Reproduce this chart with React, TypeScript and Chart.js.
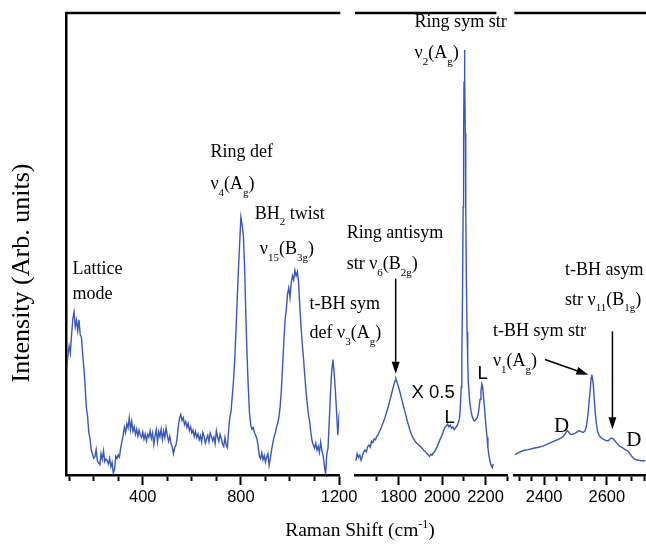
import { useEffect, useRef } from 'react';
import { Chart, registerables } from 'chart.js';

Chart.register(...registerables);

// ---------- Panel 1 (low-frequency region) ----------
const P1_SHIFT = [
  90, 95, 100, 105, 110, 115, 120, 125, 130, 135,
  140, 145, 150, 155, 160, 165, 170, 175, 180, 185,
  190, 195, 200, 205, 210, 215, 220, 225, 230, 235,
  240, 245, 250, 255, 260, 265, 270, 275, 280, 285,
  290, 295, 300, 305, 310, 315, 320, 325, 330, 335,
  340, 345, 350, 355, 360, 365, 370, 375, 380, 385,
  390, 395, 400, 405, 410, 415, 420, 425, 430, 435,
  440, 445, 450, 455, 460, 465, 470, 475, 480, 485,
  490, 495, 500, 505, 510, 515, 520, 525, 530, 535,
  540, 545, 550, 555, 560, 565, 570, 575, 580, 585,
  590, 595, 600, 605, 610, 615, 620, 625, 630, 635,
  640, 645, 650, 655, 660, 665, 670, 675, 680, 685,
  690, 695, 700, 705, 710, 715, 720, 725, 730, 735,
  740, 745, 750, 755, 760, 765, 770, 775, 780, 785,
  790, 795, 800, 805, 810, 815, 820, 825, 830, 835,
  840, 845, 850, 855, 860, 865, 870, 875, 880, 885,
  890, 895, 900, 905, 910, 915, 920, 925, 930, 935,
  940, 945, 950, 955, 960, 965, 970, 975, 980, 985,
  990, 995, 1000, 1005, 1010, 1015, 1020, 1025, 1030, 1035,
  1040, 1045, 1050, 1055, 1060, 1065, 1070, 1075, 1080, 1085,
  1090, 1095, 1100, 1105, 1110, 1115, 1120, 1125, 1130, 1135,
  1140, 1145, 1150, 1155, 1160, 1165, 1170, 1175, 1180, 1185,
  1190, 1195, 1200, 1205,
];
const P1_INTENSITY = [
  23.0, 25.8, 27.9, 26.4, 30.5, 33.8, 35.3, 32.1, 33.5, 31.2,
  33.6, 30.4, 29.8, 26.2, 23.1, 19.4, 14.6, 12.8, 9.3, 7.9,
  5.4, 4.6, 3.6, 3.9, 5.5, 3.1, 2.6, 2.2, 4.6, 3.4,
  5.2, 2.9, 3.5, 3.1, 2.4, 3.6, 1.8, 2.7, 0.4, 1.2,
  4.1, 3.6, 4.4, 3.9, 5.8, 7.2, 8.6, 10.3, 9.2, 11.1,
  10.2, 12.4, 9.8, 11.6, 9.5, 10.4, 8.8, 9.9, 8.4, 9.7,
  8.6, 8.1, 9.3, 7.8, 8.9, 7.4, 8.8, 8.2, 9.6, 7.9,
  9.1, 6.6, 8.5, 9.8, 7.2, 9.4, 8.3, 9.9, 7.7, 9.5,
  8.1, 10.2, 8.6, 7.3, 8.4, 6.8, 6.1, 4.6, 5.9, 6.4,
  8.0, 10.6, 12.3, 13.1, 11.8, 12.4, 10.9, 11.6, 10.3, 11.2,
  9.6, 10.4, 9.1, 9.7, 8.3, 9.4, 8.1, 8.9, 7.6, 8.5,
  7.1, 9.2, 8.4, 6.9, 7.8, 8.6, 7.2, 9.1, 8.3, 7.4,
  8.2, 6.8, 9.6, 8.2, 7.3, 8.8, 7.9, 6.7, 6.2, 8.1,
  6.5, 5.9, 9.8, 12.5, 13.9, 17.2, 20.5, 25.1, 31.4, 38.2,
  44.6, 50.3, 55.8, 54.2, 51.9, 45.0, 35.0, 26.0, 19.0, 13.5,
  10.8, 9.9, 10.3, 9.2, 8.6, 7.9, 6.4, 4.1, 3.5, 4.8,
  3.3, 4.2, 2.8, 3.9, 4.6, 2.1, 3.7, 5.4, 6.9, 8.2,
  9.1, 10.3, 11.2, 12.6, 14.8, 18.5, 23.7, 28.9, 33.6, 35.8,
  39.2, 40.5, 38.4, 41.6, 43.1, 42.2, 44.3, 43.1, 44.0, 41.8,
  36.5, 32.2, 28.4, 25.3, 21.7, 18.4, 15.6, 13.1, 11.6, 9.2,
  7.4, 6.5, 5.8, 6.9, 5.4, 6.2, 4.9, 7.1, 5.2, 4.3,
  2.1, 0.2, 4.5, 5.8, 11.5, 17.6, 22.4, 25.0, 22.1, 18.3,
  13.5, 8.6, 12.9, 14.0,
];

// ---------- Panel 2 (ring stretch region, x0.5) ----------
const P2_SHIFT = [
  1604, 1610, 1616, 1622, 1628, 1634, 1640, 1646, 1652, 1658,
  1664, 1670, 1676, 1682, 1688, 1694, 1700, 1706, 1712, 1718,
  1724, 1730, 1736, 1742, 1748, 1754, 1760, 1766, 1772, 1778,
  1784, 1788, 1792, 1798, 1804, 1810, 1816, 1822, 1828, 1834,
  1840, 1846, 1852, 1858, 1864, 1870, 1876, 1882, 1888, 1894,
  1900, 1906, 1912, 1918, 1924, 1930, 1936, 1942, 1948, 1954,
  1960, 1966, 1972, 1978, 1984, 1990, 1996, 2002, 2008, 2014,
  2020, 2026, 2032, 2038, 2044, 2050, 2056, 2062, 2068, 2074,
  2080, 2084, 2088, 2091, 2094, 2097, 2099, 2101, 2103, 2105,
  2107, 2109, 2112, 2115, 2118, 2121, 2127, 2133, 2139, 2145,
  2151, 2157, 2163, 2167, 2171, 2175, 2179, 2183, 2187, 2191,
  2195, 2199, 2203, 2207, 2211, 2215, 2219, 2223, 2227, 2231,
  2235,
];
const P2_INTENSITY = [
  3.1, 4.6, 3.8, 4.3, 3.2, 4.1, 5.0, 5.4, 5.0, 6.1,
  6.5, 6.0, 7.3, 7.0, 7.8, 7.6, 8.4, 8.7, 9.4, 9.9,
  10.7, 11.4, 12.2, 13.1, 14.0, 15.0, 16.1, 17.2, 18.3, 19.4,
  20.4, 20.8, 20.3, 19.3, 18.4, 17.3, 16.2, 15.0, 14.0, 12.9,
  11.7, 10.8, 9.8, 9.0, 8.3, 7.8, 7.3, 7.0, 6.7, 6.4,
  6.2, 5.9, 5.6, 5.2, 5.1, 4.7, 4.4, 4.0, 4.5, 4.3,
  4.8, 5.0, 5.6, 6.2, 6.9, 7.6, 8.2, 8.9, 9.7, 10.4,
  10.6, 11.0, 10.4, 10.8, 10.1, 10.4, 9.8, 10.2, 10.6, 11.2,
  12.2, 14.6, 19.0, 25.0, 38.0, 58.0, 72.0, 85.0, 92.0, 86.0,
  74.0, 58.0, 42.0, 31.0, 25.0, 20.0, 16.0, 13.9, 12.6, 11.9,
  11.7, 12.1, 12.5, 13.4, 14.9, 16.4, 18.2, 19.7, 18.9, 16.7,
  14.6, 12.3, 10.0, 8.1, 5.9, 4.4, 3.3, 2.5, 1.9, 1.6,
  2.4,
];

// ---------- Panel 3 (t-BH stretch region) ----------
const P3_SHIFT = [
  2307, 2320, 2334, 2350, 2366, 2382, 2398, 2414, 2430, 2445,
  2456, 2462, 2467, 2471, 2475, 2479, 2484, 2490, 2498, 2505,
  2512, 2518, 2525, 2530, 2534, 2538, 2541, 2544, 2547, 2550,
  2552, 2554, 2557, 2560, 2563, 2566, 2570, 2575, 2581, 2587,
  2593, 2600, 2605, 2610, 2616, 2621, 2627, 2632, 2640, 2648,
  2656, 2664, 2670, 2675, 2680, 2686, 2694, 2702, 2712, 2722,
];
const P3_INTENSITY = [
  4.4, 4.9, 5.3, 5.5, 5.8, 6.0, 6.3, 6.8, 7.3, 7.7,
  8.1, 8.4, 8.9, 9.4, 9.6, 9.2, 8.8, 8.8, 9.0, 9.3,
  9.6, 9.4, 9.2, 9.5, 10.3, 12.0, 13.9, 16.2, 18.3, 21.0,
  21.7, 21.0, 19.5, 16.5, 13.6, 11.5, 9.6, 8.7, 8.1, 7.8,
  7.6, 7.4, 7.4, 7.8, 8.0, 7.8, 7.3, 6.9, 6.3, 6.0,
  5.6, 5.3, 5.0, 4.5, 4.0, 3.6, 3.3, 3.2, 3.1, 3.1,
];

// ---------- Axis ticks ----------
const P1_RANGE = [90, 1201];
const P2_RANGE = [1600, 2300];
const P3_RANGE = [2305, 2725];
const P1_TICKS = [100, 200, 300, 400, 500, 600, 700, 800, 900, 1000, 1100, 1200];
const P1_LABELED = [400, 800, 1200];
const P2_TICKS = [1700, 1800, 1900, 2000, 2100, 2200, 2300];
const P2_LABELED = [1800, 2000, 2200];
const P3_TICKS = [2320, 2360, 2400, 2440, 2480, 2520, 2560, 2600, 2640, 2680, 2720];
const P3_LABELED = [2400, 2600];

// ---------- Annotations (data coordinates) ----------
type Ann = { axis: string; x: number; y: number; text: string; kind: 'serif' | 'sans' | 'big' };
const ANNOTATIONS: Ann[] = [
  { axis: 'x1', x: 114, y: 43.6, text: 'Lattice', kind: 'serif' },
  { axis: 'x1', x: 114, y: 38.0, text: 'mode', kind: 'serif' },
  { axis: 'x1', x: 676, y: 68.8, text: 'Ring def', kind: 'serif' },
  { axis: 'x1', x: 676, y: 61.9, text: 'ν_{4}(A_{g})', kind: 'serif' },
  { axis: 'x1', x: 856, y: 55.5, text: 'BH_{2} twist', kind: 'serif' },
  { axis: 'x1', x: 877, y: 47.9, text: 'ν_{15}(B_{3g})', kind: 'serif' },
  { axis: 'x1', x: 1080, y: 35.9, text: 't-BH sym', kind: 'serif' },
  { axis: 'x1', x: 1080, y: 29.6, text: 'def ν_{3}(A_{g})', kind: 'serif' },
  { axis: 'x2', x: 1562, y: 51.4, text: 'Ring antisym', kind: 'serif' },
  { axis: 'x2', x: 1562, y: 44.5, text: 'str ν_{6}(B_{2g})', kind: 'serif' },
  { axis: 'x2', x: 1874, y: 97.0, text: 'Ring sym str', kind: 'serif' },
  { axis: 'x2', x: 1874, y: 90.3, text: 'ν_{2}(A_{g})', kind: 'serif' },
  { axis: 'x2', x: 1860, y: 16.7, text: 'X 0.5', kind: 'sans' },
  { axis: 'x2', x: 2011, y: 11.3, text: 'L', kind: 'sans' },
  { axis: 'x2', x: 2163, y: 20.8, text: 'L', kind: 'sans' },
  { axis: 'x3', x: 2237, y: 30.1, text: 't-BH sym str', kind: 'serif' },
  { axis: 'x3', x: 2237, y: 23.6, text: 'ν_{1}(A_{g})', kind: 'serif' },
  { axis: 'x3', x: 2467, y: 43.2, text: 't-BH asym', kind: 'serif' },
  { axis: 'x3', x: 2467, y: 36.9, text: 'str ν_{11}(B_{1g})', kind: 'serif' },
  { axis: 'x3', x: 2432, y: 9.4, text: 'D', kind: 'big' },
  { axis: 'x3', x: 2662, y: 6.2, text: 'D', kind: 'big' },
];
const ARROWS = [
  { axis: 'x2', x1: 1787, y1: 42.5, x2: 1787, y2: 21.9 },
  { axis: 'x3', x1: 2403, y1: 25.0, x2: 2541, y2: 21.7 },
  { axis: 'x3', x1: 2618, y1: 31.1, x2: 2618, y2: 9.9 },
];
const TOP_RULE_END: Record<string, number> = { x1: 1205, x2: 2250, x3: 2725 };

const SERIF = '"Liberation Serif", "Times New Roman", serif';
const SANS = '"Liberation Sans", Arial, sans-serif';
const LINE_COLOR = '#3a58b5';

function parseRich(text: string): [string, number][] {
  const out: [string, number][] = [];
  let buf = '';
  let i = 0;
  while (i < text.length) {
    const c = text[i];
    if ((c === '_' || c === '^') && text[i + 1] === '{') {
      if (buf) { out.push([buf, 0]); buf = ''; }
      const end = text.indexOf('}', i);
      out.push([text.slice(i + 2, end), c === '_' ? 1 : 2]);
      i = end + 1;
    } else {
      buf += c;
      i++;
    }
  }
  if (buf) out.push([buf, 0]);
  return out;
}

function drawRich(ctx: CanvasRenderingContext2D, text: string, x: number, y: number, size: number, family: string, center = false) {
  const segs = parseRich(text);
  const fontFor = (k: number) => `${k === 0 ? size : Math.round(size * 0.62)}px ${family}`;
  let total = 0;
  for (const [t, k] of segs) { ctx.font = fontFor(k); total += ctx.measureText(t).width; }
  let cx = center ? x - total / 2 : x;
  ctx.textAlign = 'left';
  ctx.textBaseline = 'alphabetic';
  for (const [t, k] of segs) {
    ctx.font = fontFor(k);
    const dy = k === 1 ? size * 0.38 : k === 2 ? -size * 0.42 : 0;
    ctx.fillText(t, cx, y + dy);
    cx += ctx.measureText(t).width;
  }
}

const decorPlugin = {
  id: 'decor',
  afterDraw(chart: any) {
    const ctx: CanvasRenderingContext2D = chart.ctx;
    const ys = chart.scales.y;
    const area = chart.chartArea;
    ctx.save();
    // top rules of the three panels
    ctx.strokeStyle = '#000';
    ctx.lineWidth = 2.5;
    for (const id of ['x1', 'x2', 'x3']) {
      const s = chart.scales[id];
      const left = id === 'x1' ? s.left - 1.25 : s.left;
      const right = Math.min(s.getPixelForValue(TOP_RULE_END[id]), s.right + 1);
      ctx.beginPath();
      ctx.moveTo(left, area.top);
      ctx.lineTo(right, area.top);
      ctx.stroke();
    }
    // annotations
    ctx.fillStyle = '#000';
    for (const a of ANNOTATIONS) {
      const s = chart.scales[a.axis];
      const px = s.getPixelForValue(a.x);
      const py = ys.getPixelForValue(a.y);
      if (a.kind === 'sans') drawRich(ctx, a.text, px, py, 18.5, SANS);
      else if (a.kind === 'big') drawRich(ctx, a.text, px, py, 21, SERIF);
      else drawRich(ctx, a.text, px, py, 18, SERIF);
    }
    // arrows
    ctx.lineWidth = 1.5;
    for (const ar of ARROWS) {
      const s = chart.scales[ar.axis];
      const x1 = s.getPixelForValue(ar.x1);
      const y1 = ys.getPixelForValue(ar.y1);
      const x2 = s.getPixelForValue(ar.x2);
      const y2 = ys.getPixelForValue(ar.y2);
      const ang = Math.atan2(y2 - y1, x2 - x1);
      const hl = 12;
      const hw = 4;
      const bx = x2 - hl * Math.cos(ang);
      const by = y2 - hl * Math.sin(ang);
      ctx.beginPath();
      ctx.moveTo(x1, y1);
      ctx.lineTo(bx, by);
      ctx.stroke();
      ctx.beginPath();
      ctx.moveTo(x2, y2);
      ctx.lineTo(bx + hw * Math.sin(ang), by - hw * Math.cos(ang));
      ctx.lineTo(bx - hw * Math.sin(ang), by + hw * Math.cos(ang));
      ctx.closePath();
      ctx.fill();
    }
    // axis titles
    drawRich(ctx, 'Raman Shift (cm^{-1})', 360, 536, 19.5, SERIF, true);
    ctx.translate(21.7, 273);
    ctx.rotate(-Math.PI / 2);
    ctx.font = `26px ${SERIF}`;
    ctx.textAlign = 'center';
    ctx.textBaseline = 'middle';
    ctx.fillText('Intensity (Arb. units)', 0, 0);
    ctx.restore();
  },
};

function panelScale(range: number[], ticks: number[], labeled: number[], weight: number, stackWeight: number) {
  return {
    type: 'linear',
    position: 'bottom',
    stack: 'xs',
    stackWeight,
    weight,
    min: range[0],
    max: range[1],
    afterBuildTicks: (axis: any) => { axis.ticks = ticks.map((value) => ({ value })); },
    afterFit: (axis: any) => { axis.paddingLeft = 0; axis.paddingRight = 0; },
    ticks: {
      autoSkip: false,
      maxRotation: 0,
      minRotation: 0,
      padding: 3,
      color: '#000',
      font: { family: SANS, size: 16.5 },
      callback: (v: any) => (labeled.includes(v) ? String(v) : ''),
    },
    grid: {
      display: true,
      drawOnChartArea: false,
      drawTicks: true,
      tickLength: 10,
      tickWidth: 2,
      tickColor: '#000',
      tickBorderDash: (c: any) => (c.tick && labeled.includes(c.tick.value) ? [] : [4.5, 40]),
    },
    border: { display: true, width: 2.5, color: '#000' },
  };
}

function gapScale(weight: number, stackWeight: number) {
  return {
    type: 'linear',
    position: 'bottom',
    stack: 'xs',
    stackWeight,
    weight,
    min: 0,
    max: 1,
    ticks: { display: false },
    grid: { display: false, drawTicks: false },
    border: { display: false },
  };
}

export default function App() {
  const ref = useRef<HTMLCanvasElement>(null);
  useEffect(() => {
    const canvas = ref.current;
    if (!canvas) return;
    const mk = (xs: number[], ys: number[]) => xs.map((x, i) => ({ x, y: ys[i] }));
    const ds = (data: any, xAxisID: string) => ({
      data,
      xAxisID,
      yAxisID: 'y',
      borderColor: LINE_COLOR,
      borderWidth: 1.4,
      pointRadius: 0,
      tension: 0,
      fill: false,
    });
    const chart = new Chart(canvas, {
      type: 'line',
      data: {
        datasets: [
          ds(mk(P1_SHIFT, P1_INTENSITY), 'x1'),
          ds(mk(P2_SHIFT, P2_INTENSITY), 'x2'),
          ds(mk(P3_SHIFT, P3_INTENSITY), 'x3'),
        ],
      },
      options: {
        animation: false,
        responsive: false,
        devicePixelRatio: 1,
        events: [],
        layout: { padding: { left: 0, right: 0, top: 13, bottom: 35.2 }, autoPadding: false },
        plugins: { legend: { display: false }, tooltip: { enabled: false }, title: { display: false } },
        scales: {
          y: {
            type: 'linear',
            position: 'left',
            min: 0,
            max: 100,
            ticks: { display: false },
            grid: { display: false, drawTicks: false },
            border: { display: true, width: 2.5, color: '#000' },
            afterFit: (axis: any) => { axis.width = 66.7; },
          },
          x1: panelScale(P1_RANGE, P1_TICKS, P1_LABELED, 0, 272.6),
          xg1: gapScale(1, 15.7),
          x2: panelScale(P2_RANGE, P2_TICKS, P2_LABELED, 2, 152.3),
          xg2: gapScale(3, 7.0),
          x3: panelScale(P3_RANGE, P3_TICKS, P3_LABELED, 4, 131.7),
        } as any,
      },
      plugins: [decorPlugin],
    } as any);
    return () => chart.destroy();
  }, []);
  return (
    <div style={{ position: 'absolute', left: 0, top: 0, width: 646, height: 546, background: '#fff' }}>
      <canvas ref={ref} width={646} height={546} style={{ display: 'block', width: 646, height: 546 }} />
    </div>
  );
}
